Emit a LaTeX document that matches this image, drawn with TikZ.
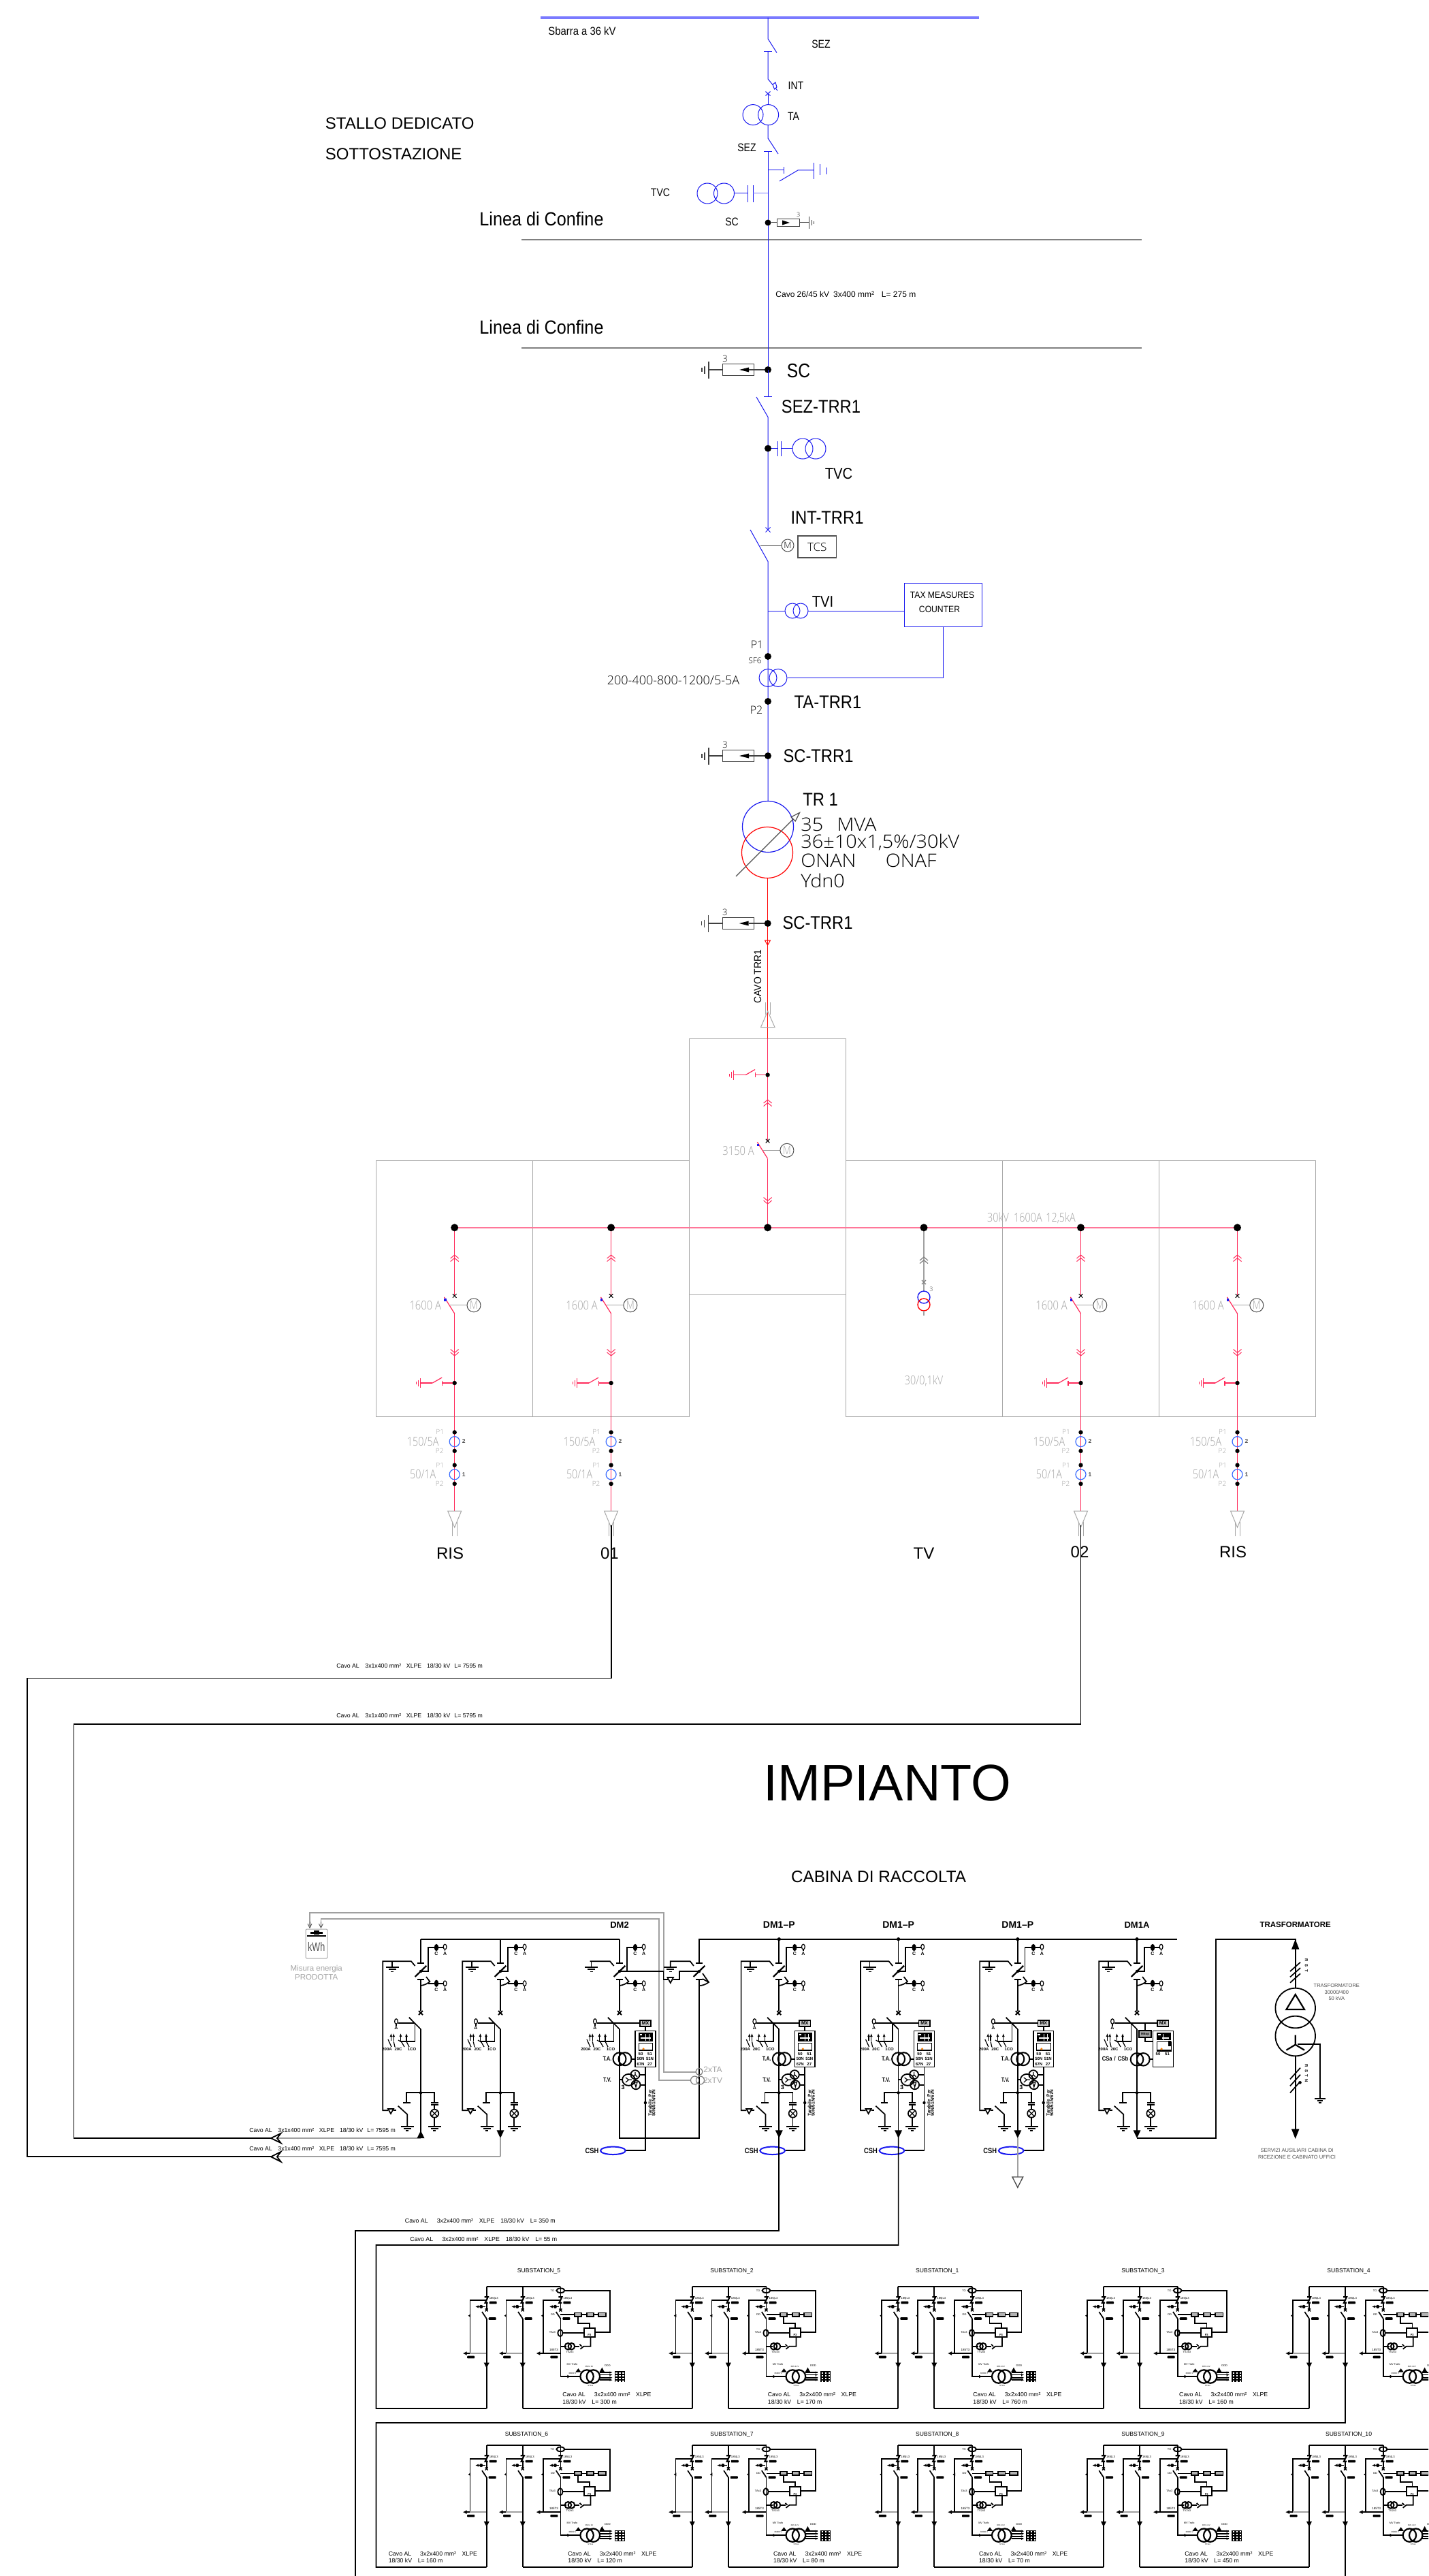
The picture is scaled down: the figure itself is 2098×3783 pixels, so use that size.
\documentclass[tikz,border=0pt]{standalone}
\usepackage{fontspec}
\setmainfont{Liberation Sans}
\newfontfamily\thinf{Open Sans Light}
\usepackage{graphicx}
\usetikzlibrary{arrows.meta}
\definecolor{blu}{HTML}{1A1AF0}
\definecolor{barblu}{HTML}{7A7AFF}
\definecolor{ctblu}{HTML}{3A6CFF}
\definecolor{crim}{HTML}{FF2A5A}
\definecolor{busp}{HTML}{FF7799}
\definecolor{gbox}{HTML}{A8A8A8}
\definecolor{gtxt}{HTML}{A4A4A4}
\definecolor{gcab}{HTML}{A0A0A0}
\definecolor{dgr}{HTML}{505050}
\newcounter{lb}
\newcommand\tx[6][1]{\stepcounter{lb}\node[inner sep=0pt,font=\fontsize{\fpeval{#4/2}}{\fpeval{#4*.6}}\selectfont,#5] (lbl\arabic{lb}) at (#2,#3) {\scalebox{#1}[1]{#6}};}
% ---------- upper symbols
\newcommand\sarr[2]{\begin{scope}[shift={(#1,#2)},line width=.6pt,draw=black!75]
 \draw (-66.5,-8.5) rectangle (-20.5,8.5);
 \fill[black] (-42,0)--(-28,-3.5)--(-28,3.5)--cycle;
 \draw (-28,0)--(0,0);
 \draw (-66.5,0)--(-87,0);
 \draw (-87,-12.5)--(-87,12.5);
 \draw (-93,-5.5)--(-93,5.5);
 \draw (-97,-3)--(-97,3);
 \tx{-63}{-16}{13}{}{\thinf 3}
\end{scope}}
\newcommand\chup[1]{\begin{scope}[shift={#1},crim,line width=.5pt]\draw (-6,5)--(0,0)--(6,5) (-6,9.5)--(0,4.5)--(6,9.5);\end{scope}}
\newcommand\chdn[1]{\begin{scope}[shift={#1},crim,line width=.5pt]\draw (-6,-5)--(0,0)--(6,-5) (-6,-9.5)--(0,-4.5)--(6,-9.5);\end{scope}}
\newcommand\xm[1]{\begin{scope}[shift={#1},line width=.5pt]\draw (-2.8,-2.8)--(2.8,2.8) (-2.8,2.8)--(2.8,-2.8);\end{scope}}
\newcommand\pes[1]{\begin{scope}[shift={#1},crim,line width=.6pt]
 \draw (-18.5,0)--(0,0); \draw (-18.5,-3.5)--(-18.5,3.5);
 \draw (-32.5,0)--(-18.5,-8);
 \draw (-50,0)--(-32.5,0);
 \draw (-50,-7)--(-50,7); \draw (-53,-4.5)--(-53,4.5); \draw (-56,-2)--(-56,2);
 \fill[black] (0,0) circle (3.2);
\end{scope}}
\newcommand\brk[2]{\begin{scope}[shift={#1}]
 \draw[crim,line width=.6pt] (-15.2,-12)--(0,12.2);
 \xm{(0,-13.8)}
 \fill[blu] (-15.8,-9.5) rectangle (-12.2,-6);
 \draw[gtxt,line width=.6pt] (-7,0)--(18.7,0);
 \draw[dgr,line width=.5pt] (28.3,0) circle (10);
 \tx[.8]{28.3}{0}{17}{text=gtxt}{\thinf M}
 \tx[.82]{-43}{0.5}{18}{text=gtxt}{\thinf #2}
\end{scope}}
\newcommand\term[1]{\begin{scope}[shift={#1},gbox,line width=.5pt]
 \draw (-10,0)--(10,0)--(0,24)--cycle;
 \draw (-3.5,16)--(-3.5,36.6) (3.5,16)--(3.5,36.6);
\end{scope}}
\newcommand\pct[3]{\begin{scope}[shift={#1}]
 \fill (0,0) circle (3.2); \fill (0,27.4) circle (3.2);
 \draw[ctblu,line width=.6pt] (0,13.7) circle (7.5);
 \tx{-21.5}{0}{10}{text=gtxt}{\thinf P1}
 \tx{-22}{27}{10}{text=gtxt}{\thinf P2}
 \tx{13.5}{13.5}{8.5}{text=dgr}{\bfseries #2}
 \tx[.8]{-46.5}{13.5}{18}{text=gtxt}{\thinf #3}
\end{scope}}
\newcommand\feed[1]{\begin{scope}[shift={(#1,0)}]
 \draw[crim,line width=.6pt] (0,1802.8)--(0,1903) (0,1929)--(0,2219);
 \chup{(0,1843)}
 \brk{(0,1916.8)}{1600 A}
 \chdn{(0,1991)}
 \pes{(0,2031)}
 \pct{(0,2103.4)}{2}{150/5A}
 \pct{(0,2151.6)}{1}{50/1A}
 \term{(0,2219)}
 \fill (0,1802.8) circle (5.5);
\end{scope}}
% ---------- black switchgear
\newcommand\ek[1]{\begin{scope}[shift={#1}]\draw (-9.5,0)--(9.5,0) (-5.5,3.3)--(5.5,3.3) (-2,6.6)--(2,6.6);\end{scope}}
\newcommand\capC[1]{\begin{scope}[shift={#1}]\fill (0,0) ellipse (3.2 and 5.2);
 \tx{0}{9.3}{7}{}{\bfseries C}\end{scope}}
\newcommand\keyA[1]{\begin{scope}[shift={#1}]\draw[line width=.6pt] (0,0) ellipse (2.4 and 3.8);\draw[line width=.6pt] (0,3.8)--(0,6);
 \tx{0}{9.8}{7}{}{\bfseries A}\end{scope}}
\newcommand\colTop[1]{\begin{scope}[shift={(#1,0)}]
 \draw (0,2847.7)--(0,2882.7) (-5,2882.7)--(5,2882.7);
 \draw[line width=1.1pt] (-8.4,2903)--(8.4,2886.7);
 \fill (0,2895) circle (2.2);
 \draw (-5,2906.7)--(5,2906.7) (0,2906.7)--(0,2953);
 \draw[line width=1pt] (-3,2953)--(3,2959) (-3,2959)--(3,2953);
 \draw (0,2895)--(10.7,2895)--(10.7,2860)--(20,2860);
 \draw (26,2860)--(33,2860);
 \capC{(23,2860)}\keyA{(35.6,2859)}
 \draw (0,2916) .. controls (6,2915) and (10,2913) .. (13.4,2910)--(8,2903);
 \draw (11,2912.7)--(20,2912.7) (26,2912.7)--(33,2912.7);
 \capC{(23,2912.7)}\keyA{(35.6,2912.7)}
\end{scope}}
\newcommand\colLeft[1]{\begin{scope}[shift={(#1,0)}]
 \draw (-8.4,2887)--(-14,2880.3)--(-55.7,2880.3)--(-55.7,3099.3)--(-48,3099.3);
 \draw (-40,3099.3)--(-36,3099.3);
 \draw[fill=white] (-48,3097)--(-40,3097)--(-44,3104)--cycle;
 \draw (-33.3,3092.7)--(-19.8,3105)--(-19.8,3122.7);
 \ek{(-19.8,3122.7)}
 \draw (-42,2880.3)--(-42,2889);
 \ek{(-42,2889)}
\end{scope}}
\newcommand\colBrk[1]{\begin{scope}[shift={(#1,0)}]
 \draw (-17.2,2962.7)--(0,2980);
 \keyA{(-36,2968.5)}
 \draw (-33.5,2970.7)--(-9,2970.7);
 \draw (-8.4,2970.7)--(-8.4,2998.3)--(-30,2998.3);
 \draw[line width=.6pt,-{Latex[length=2.5pt,width=2pt]}] (-43.6,2997)--(-43.6,2986);
 \draw[line width=.6pt,-{Latex[length=2.5pt,width=2pt]}] (-39.8,2997)--(-39.8,2986);
 \draw[line width=.6pt,-{Latex[length=2.5pt,width=2pt]}] (-29.5,2997)--(-29.5,2986);
 \draw[line width=.6pt,-{Latex[length=2.5pt,width=2pt]}] (-21,2997)--(-21,2986);
 \draw[line width=.6pt] (-48,2995)--(-43,3006) (-39.8,2998)--(-38,3006) (-33,2996)--(-28,2999)--(-24,3006) (-21,2998)--(-17,3006);
 \tx{-49.5}{3009.5}{6}{}{\bfseries 200A}
 \tx{-33}{3009.5}{6}{}{\bfseries 20C}
 \tx{-13}{3009.5}{6}{}{\bfseries 1CO}
\end{scope}}
\newcommand\mxbox[1]{\begin{scope}[shift={#1}]\draw[fill=black!20] (0,-4.5) rectangle (16.5,4.5);
 \tx{8.2}{0}{7}{}{\bfseries MX}\end{scope}}
\newcommand\relayBody[1]{\begin{scope}[shift={(#1,0)}]
 \draw[line width=.7pt] (23,2982.3) rectangle (52.8,3035.7);
 \fill (28,2985) rectangle (49,2998);
 \fill[white] (29.5,2987) rectangle (33,2989);\fill[white] (31,2992) rectangle (46,2994);\fill[white] (38,2986.5) rectangle (39,2997);\fill[white] (43,2986.5) rectangle (44,2997);
 \draw[line width=.5pt] (28,3000) rectangle (48.5,3011.7);
 \fill (28,3009.5) rectangle (48.5,3011.7);
 \fill[orange] (35,3009) circle (1.8);
\end{scope}}
\newcommand\relayFull[1]{\begin{scope}[shift={(#1,0)}]
 \mxbox{(29.8,2971.2)}
 \draw (-9,2970.7)--(29.8,2970.7) (37.9,2975.7)--(37.9,2982.3);
 \relayBody{0}
 \tx{31}{3016}{6}{}{\bfseries 50}\tx{44.5}{3016}{6}{}{\bfseries 51}
 \tx{31}{3023.7}{6}{}{\bfseries 50N}\tx{44.5}{3023.7}{6}{}{\bfseries 51N}
 \tx{31}{3031}{6}{}{\bfseries 67N}\tx{44.5}{3031}{6}{}{\bfseries 27}
 \draw[line width=1pt] (0,3023.7) circle (9.5) (8,3023.7) circle (9.5);
 \draw (17.5,3023.7)--(23,3023.7);
 \tx[.8]{-18}{3023.3}{9}{}{\bfseries T.A.}
 \tx[.8]{-18}{3054.3}{9}{}{\bfseries T.V.}
 \draw (0,3054.3)--(4,3054.3);
 \draw[line width=.9pt] (13.4,3054.3) ellipse (9.4 and 8.5) (23,3046.7) ellipse (6.5 and 6.5) (24,3061.7) ellipse (6.5 and 6.5);
 \draw[line width=.6pt] (13.4,3054.3)--(9,3051) (13.4,3054.3)--(9,3058) (13.4,3054.3)--(18,3054.3);
 \draw[line width=.6pt] (23,3046.7)--(23,3043) (23,3046.7)--(20,3050) (23,3046.7)--(26,3050);
 \draw[line width=.6pt] (22,3058)--(26,3058)--(24,3065)--cycle;
 \draw (29.5,3046.7)--(37.9,3046.7) (30.5,3061.7)--(37.9,3061.7);
 \tx{5}{3065}{9}{}{\bfseries 3}
 \draw (37.9,3035.7)--(37.9,3158.3)--(8.8,3158.3);
 \fill (37.9,3088) circle (2.2);
 \tx{44.8}{3088}{6.5}{rotate=90}{\bfseries Tarabile\ \ Per}
 \tx{50}{3088}{6.5}{rotate=90}{\bfseries 50N/51N/67N}
 \draw[blu,line width=1pt] (-9.6,3158.3) ellipse (18.4 and 5.7);
 \tx[.85]{-40.6}{3158.3}{11}{}{\bfseries CSH}
\end{scope}}
\newcommand\colBot[1]{\begin{scope}[shift={(#1,0)}]
 \fill (0,3073.3) circle (2.2);
 \draw (-20.7,3087.7)--(-20.7,3073.3)--(20.3,3073.3)--(20.3,3088.3);
 \draw (-26,3087.7)--(-15.5,3087.7);
 \draw (15,3088.3)--(25.5,3088.3) (15,3090.7)--(25.5,3090.7);
 \draw (20.3,3090.7)--(20.3,3097.7) (20.3,3109.7)--(20.3,3122.7);
 \draw (20.3,3103.7) circle (6);
 \draw[line width=.6pt] (16,3099.5)--(24.5,3108) (16,3108)--(24.5,3099.5);
 \ek{(20.3,3122.7)}
\end{scope}}
\newcommand\arrD[1]{\begin{scope}[shift={(#1,0)}]\fill (-5.5,3128.3)--(5.5,3128.3)--(0,3140)--cycle;\end{scope}}
\newcommand\arrU[1]{\begin{scope}[shift={(#1,0)}]\fill (-5.5,3140)--(5.5,3140)--(0,3129)--cycle;\end{scope}}
% ---------- substation module
\newcommand\blob[1]{\fill[rounded corners=.4pt] #1 rectangle +(11,3.6);}
\newcommand\subtop[1]{\begin{scope}[shift={(#1,0)}]
 \draw[line width=1.1pt] (-3,15.5)--(2,15.5)--(-2,24)--(2,24);
 \draw (0,0)--(0,15.5) (0,24)--(0,34);
 \tx{10.5}{18}{4.2}{}{185|L3}
 \blob{(4,22)}
 \draw[line width=.5pt,-{Latex[length=2.5pt,width=2.2pt]}] (-2,29.7)--(-16.5,29.7);
 \fill (-8,29.7) ellipse (2.6 and 2.6);
 \draw[line width=.7pt] (-2,32.7)--(2,36.7) (-2,36.7)--(2,32.7);
 \draw (-6.7,37.3)--(0,47.3);
 \blob{(3,45.5)}
\end{scope}}
\newcommand\subfeed[1]{\begin{scope}[shift={(#1,0)}]
 \subtop{0}
 \draw (-1,20)--(-24.3,20)--(-24.3,98.3);
 \fill (-27,43)--(-23.5,40.5)--(-23.5,45.5)--cycle;
 \draw[-{Latex[length=3pt,width=3pt]}] (-24.3,98.3)--(-35,98.3);
 \draw[gcab,line width=.7pt] (-24.3,98.3)--(1,98.3);
 \blob{(-28.5,102)}
 \draw (0,47.3)--(0,179.2);
 \fill (-4,112)--(4,112)--(0,120)--cycle;
\end{scope}}
\newcommand\sub[3]{\begin{scope}[shift={(#1,#2)},line width=.85pt]
 \draw (0,0)--(108.7,0);
 \subfeed{0}\subfeed{53}
 \coordinate (#3a) at (0,179.2);
 \coordinate (#3b) at (53,179.2);
 \begin{scope}[shift={(108.7,0)}]
  \subtop{0}
  \draw (-1,20)--(-25.7,20)--(-25.7,98.3);
  \fill (-28.5,43)--(-25,40.5)--(-25,45.5)--cycle;
  \draw[-{Latex[length=3pt,width=3pt]}] (-25.7,98.3)--(-36,98.3);
  \draw (-25.7,98.3)--(0,98.3);
  \tx{-10}{95.5}{4.5}{}{\underline{185T3}}
  \blob{(-15,102)}
  \draw (0,47.3)--(0,132.3)--(29,132.3);
  \fill (10,130)--(14,132.3)--(10,134.6)--cycle;
  \draw[line width=.95pt] (0,6) ellipse (6 and 3.3);
  \tx{-12}{6}{4}{}{TO}
  \draw (6,6)--(72.5,6)--(72.5,67.4)--(50.5,67.4);
  \tx{-11.5}{41.5}{4}{}{DD}
  \tx{-12}{67.5}{4}{}{TAx3}
  \draw (0,41.6)--(20.3,41.6) (30.6,41.6)--(38.3,41.6) (48.6,41.6)--(55.3,41.6);
  \draw[fill=black!30] (20.3,38.7) rectangle (30.6,44.5);
  \draw[fill=black!30] (38.3,38.7) rectangle (48.6,44.5);
  \draw[fill=black!30] (55.3,38.7) rectangle (66.9,44.5);
  \draw (25.6,44.5)--(25.6,54)--(42.8,54)--(42.8,61);
  \draw[line width=1pt] (34.3,61) rectangle (50.5,74);
  \tx{42.5}{71.8}{4}{}{\bfseries P3}
  \draw[line width=.9pt] (-.5,68.4) ellipse (3.6 and 5);
  \draw (3,68.4)--(34.3,68.4);
  \draw (0,88)--(9,88);
  \draw[line width=1pt] (11,88) circle (4.8) (16,88) circle (4.8);
  \draw (21,88)--(28,88);
  \draw (28,85)--(31,88)  (29,92)--(34,88)--(44,88)--(44,74);
  \tx{13.5}{96.6}{4}{}{TV2x3}
  \tx{17}{114}{3.8}{}{MV Trafo}
  \tx{17.5}{128}{3}{}{36000 V}
  \tx{42}{117.5}{2.8}{}{36/0.4 kV}
  \tx{44}{145.5}{2.8}{}{ST1xx}
  \tx{69}{116}{4}{}{DDD}
  \fill (26,120.5)--(30.2,126)--(21.8,126)--cycle;
  \fill (61,119)--(63,123)--(65,126)--(61,125)--(57,126)--cycle;
  \draw[line width=1.1pt] (38.7,132.3) circle (9.7) (48,132.3) circle (9.7);
  \foreach \yy in {126.3,129.8,134,137.5}{\draw[line width=.9pt] (57.5,\yy)--(75,\yy);\fill (72,\yy-1.5)--(76,\yy)--(72,\yy+1.5)--cycle;}
  \fill (79.3,124.7) rectangle (94.3,140.7);
  \foreach \cx in {81,86,91}{\foreach \cy in {126.5,130.5,134.5,138.5}{\fill[white] (\cx,\cy) rectangle +(2.4,1.5);}}
 \end{scope}
\end{scope}}
\newcommand\cav[3]{\tx{#1}{#2}{8.7}{anchor=west}{Cavo AL\hspace{1.5em}3x2x400 mm²\hspace{1em}XLPE}
 \tx{#1}{#2+10.2}{8.7}{anchor=west}{18/30 kV\hspace{1em}L= #3 m}}
\begin{document}
\begin{tikzpicture}[x=.5pt,y=-.5pt]
\useasboundingbox (0,0) rectangle (2098,3783);
\fill[white] (0,0) rectangle (2098,3783);
\clip (0,0) rectangle (2098,3783);
% ==================== titles
\tx{477.5}{181}{24}{anchor=west}{STALLO DEDICATO}
\tx{477.5}{226.6}{24}{anchor=west}{SOTTOSTAZIONE}
\tx[.9]{795.5}{321}{28}{}{Linea di Confine}
\tx[.9]{795.5}{480}{28}{}{Linea di Confine}
\draw[gcab!80!black,line width=1pt] (766,352)--(1677,352);
\draw[gcab!80!black,line width=1pt] (766,511)--(1677,511);
% ==================== top substation
\coordinate (bar) at (1128,26);
\draw[barblu,line width=1.6pt] (794,26)--(1438,26);
\tx[.9]{855}{46}{16.5}{}{Sbarra a 36 kV}
\begin{scope}[blu,line width=.5pt]
 \draw (bar)--(1128,57)--(1141,77.5);
 \draw (1122,76)--(1134,76);
 \draw (1128,76)--(1128,116)--(1142,133);
 \draw[fill=white] (1135,124)--(1139,121)--(1141,128)--(1137.5,131)--cycle;
 \draw (1124.5,134.5)--(1131.5,140.5) (1124.5,140.5)--(1131.5,134.5);
 \draw (1128,137.5)--(1128,153.5);
 \draw (1106,168.6) circle (15) (1128.6,168.6) circle (15);
 \draw (1128,183.6)--(1128,203)--(1143,226);
 \draw (1122,223)--(1134,223);
 \draw (1128,223)--(1128,543);
 \draw (1128,250)--(1151,250) (1151,245)--(1151,255);
 \draw (1145,266)--(1172,250)--(1195,250);
 \draw (1195,239)--(1195,263) (1204,241)--(1204,257) (1214,246)--(1214,256);
 \draw (1039,284) circle (15) (1063.5,284) circle (15);
 \draw (1078.5,284)--(1098.6,284) (1098.6,272.5)--(1098.6,297) (1106,272.5)--(1106,297);
 \draw[barblu] (1106,284)--(1128,284);
\end{scope}
\tx[.85]{1206}{65}{16.5}{}{SEZ}
\tx[.85]{1169}{126}{16.5}{}{INT}
\tx[.85]{1165.5}{171}{16.5}{}{TA}
\tx[.85]{1097}{217}{16.5}{}{SEZ}
\tx[.85]{970}{283}{16.5}{}{TVC}
\tx[.85]{1075}{326}{16.5}{}{SC}
\tx{1139}{432}{12}{anchor=west}{Cavo 26/45 kV\hspace{.5em}3x400 mm²\hspace{.9em}L= 275 m}
\node[circle,fill=black,inner sep=0pt,minimum size=4.5pt] (scA) at (1128,327) {};
\begin{scope}[line width=.5pt,draw=black!75]
 \draw (scA)--(1141,327);
 \draw (1141,321.4) rectangle (1174.5,333);
 \fill[black] (1160,327)--(1149,323.5)--(1149,330.5)--cycle;
 \draw (1174.5,327)--(1188.5,327) (1188.5,318)--(1188.5,336) (1192,323)--(1192,331) (1195.5,325)--(1195.5,329);
\end{scope}
\tx{1172.6}{315}{9}{}{\thinf 3}
% second block
\coordinate (sc2) at (1128,543);
\sarr{1128}{543}
\fill (sc2) circle (5);
\tx[.85]{1173}{545}{29}{}{SC}
\coordinate (sezt) at (1128,612.5);
\begin{scope}[blu,line width=.5pt]
 \draw (sc2)--(1128,582.6) (1122,582.6)--(1134,582.6);
 \draw (1111,583)--(sezt)--(1128,778);
 \draw (1124.5,774.5)--(1131.5,781.5) (1124.5,781.5)--(1131.5,774.5);
 \draw (1128,658.5)--(1142,658.5) (1142,648)--(1142,669.6) (1147.8,648)--(1147.8,669.6) (1147.8,658.5)--(1164,658.5);
 \draw (1179,659) circle (15) (1198,659) circle (15);
 \draw (1102,778)--(1128,824.5)--(1128,1177);
 \draw (1128,897)--(1153,897);
 \draw (1164,897) circle (11) (1176,897) circle (11);
 \draw (1187,897)--(1328.6,897);
 \draw (1385,920.5)--(1385,995.5)--(1157,995.5);
 \draw (1128,995.5) circle (13) (1143,995.5) circle (13);
\end{scope}
\fill (1128,658.5) circle (5);
\tx[.88]{1206}{597}{27}{}{SEZ-TRR1}
\tx[.88]{1232}{695.5}{23}{}{TVC}
\tx[.88]{1215}{760}{27}{}{INT-TRR1}
\draw[dgr,line width=.5pt] (1116.5,801)--(1148,801);
\node[circle,draw=dgr,line width=.5pt,inner sep=0pt,minimum size=9pt,font=\fontsize{6.5}{7}\thinf] (motT) at (1157,801) {M};
\node[draw=dgr,line width=.6pt,inner sep=0pt,minimum width=28.3pt,minimum height=16pt,font=\fontsize{8.5}{10}\thinf] (tcs) at (1200.3,803) {TCS};
\node[draw=blu,line width=.5pt,inner sep=0pt,minimum width=56.7pt,minimum height=32.2pt] (tax) at (1385.3,888.2) {};
\tx[.9]{1384}{873.7}{13.5}{}{TAX MEASURES}
\tx[.9]{1380}{894.6}{13.5}{}{COUNTER}
\tx[.88]{1208.5}{884}{23}{}{TVI}
\tx{1112}{947}{16}{}{\thinf P1}
\tx{1109}{970.5}{12}{}{\thinf SF6}
\tx{1111}{1043}{16}{}{\thinf P2}
\tx{989}{999}{18}{}{\thinf 200-400-800-1200/5-5A}
\fill (1128,964) circle (5);
\fill (1128,1030) circle (5);
\tx[.88]{1216}{1031}{27}{}{TA-TRR1}
\sarr{1128}{1110}
\fill (1128,1110) circle (5);
\tx[.88]{1202}{1110}{27}{}{SC-TRR1}
\tx[.88]{1205}{1174}{27}{}{TR 1}
% transformer
\draw[blu,line width=.6pt] (1128,1214) circle (37.5);
\draw[red,line width=.6pt] (1127,1252) circle (37.5);
\draw[line width=.6pt,dgr,-{Triangle[open,length=8pt,width=5pt]}] (1081,1287)--(1176,1192);
\tx[1.07]{1176}{1211}{27}{anchor=west}{\thinf 35\hspace{.7em}MVA}
\tx[1.07]{1176}{1237}{27}{anchor=west}{\thinf 36±10x1,5\%/30kV}
\tx[1.07]{1176}{1264}{27}{anchor=west}{\thinf ONAN\hspace{1.5em}ONAF}
\tx[1.07]{1176}{1293}{27}{anchor=west}{\thinf Ydn0}
\draw[red,line width=.7pt] (1127.5,1290)--(1127.5,1525);
\sarr{1127.7}{1356}
\fill (1127.7,1356) circle (5);
\tx[.88]{1201}{1355}{27}{}{SC-TRR1}
\draw[red,line width=.5pt] (1123.5,1381)--(1131.5,1381)--(1127.5,1388)--cycle;
\tx[.93]{1113}{1434}{15}{rotate=90}{CAVO TRR1}
\begin{scope}[gbox,line width=.5pt]
 \draw (1117.5,1508.5)--(1138,1508.5)--(1127.7,1485)--cycle;
 \draw (1124.5,1472)--(1124.5,1490) (1131,1472)--(1131,1490);
\end{scope}
% panels
\begin{scope}[gbox,line width=.5pt]
 \draw (552.5,1704.5) rectangle (782.4,2080.6);
 \draw (782.4,1704.5)--(1012.6,1704.5)--(1012.6,2080.6)--(782.4,2080.6);
 \draw (1012.6,1525) rectangle (1242.4,1901);
 \draw (1242.4,1704.5)--(1932.7,1704.5)--(1932.7,2080.6)--(1242.4,2080.6)--cycle;
 \draw (1472.3,1704.5)--(1472.3,2080.6) (1702.3,1704.5)--(1702.3,2080.6);
\end{scope}
% bus
\draw[busp,line width=1.3pt] (667.7,1802.8)--(1817.5,1802.8);
\foreach \fx in {667.7,897.6,1587.5,1817.5}{\feed{\fx}}
\draw[crim,line width=.7pt] (1127.6,1525)--(1127.6,1676) (1127.6,1702)--(1127.6,1802.8);
\pes{(1127.6,1578.6)}
\chup{(1127.6,1615)}
\brk{(1127.6,1689.3)}{3150 A}
\chdn{(1127.6,1768)}
\fill (1127.6,1802.8) circle (5.5);
% TV feeder
\begin{scope}[shift={(1357,0)}]
 \draw[gcab,line width=.9pt] (0,1802.8)--(0,1896);
 \begin{scope}[gray]
  \draw[line width=.6pt] (-6,1851)--(0,1846)--(6,1851) (-6,1855.5)--(0,1850.5)--(6,1855.5);
  \draw[line width=.6pt] (-3,1880)--(3,1886) (-3,1886)--(3,1880);
 \end{scope}
 \draw[blu,line width=.7pt] (0,1905) circle (9);
 \draw[red,line width=.7pt] (0,1916) circle (9);
 \draw[gcab,line width=.6pt] (0,1925)--(0,1932);
 \tx{11}{1893}{9}{text=dgr}{\thinf 3}
 \fill (0,1802.8) circle (5.5);
 \tx[.8]{0}{2028}{18}{text=gtxt}{\thinf 30/0,1kV}
\end{scope}
\tx[.8]{1515}{1789}{18}{text=gtxt}{\thinf 30kV\hspace{.5em}1600A\hspace{.4em}12,5kA}
\tx{661}{2281}{24}{}{RIS}
\tx{895.4}{2281}{24}{}{01}
\tx{1357}{2281}{24}{}{TV}
\tx{1586}{2279}{24}{}{02}
\tx{1811}{2279}{24}{}{RIS}
% ==================== long cables
\begin{scope}[line width=.9pt]
 \coordinate (c1) at (897.6,2240);
 \coordinate (c2) at (1587.5,2240);
 \coordinate (ta1) at (412,3167.3);
 \coordinate (ta2) at (412,3140);
 \draw (c1)--(897.6,2464.4)--(40,2464.4)--(40,3167.3)--(ta1);
 \draw (c2)--(1587.5,2532)--(108.4,2532)--(108.4,3140)--(ta2);
 \draw[fill=white] (398,3167.3)--(412.5,3160)--(407,3167.3)--(412.5,3174.5)--cycle;
 \draw[fill=white] (398,3140)--(412.5,3133)--(407,3140)--(412.5,3147)--cycle;
 \draw[gcab,line width=1pt] (409,3140)--(618,3140) (409,3167.3)--(735,3167.3);
\end{scope}
\tx{494}{2446}{8.7}{anchor=west}{Cavo AL\hspace{1em}3x1x400 mm²\hspace{.9em}XLPE\hspace{.9em}18/30 kV\hspace{.7em}L= 7595 m}
\tx{494}{2519}{8.7}{anchor=west}{Cavo AL\hspace{1em}3x1x400 mm²\hspace{.9em}XLPE\hspace{.9em}18/30 kV\hspace{.7em}L= 5795 m}
\tx{366}{3128}{8.7}{anchor=west}{Cavo AL\hspace{1em}3x1x400 mm²\hspace{.9em}XLPE\hspace{.9em}18/30 kV\hspace{.7em}L= 7595 m}
\tx{366}{3155}{8.7}{anchor=west}{Cavo AL\hspace{1em}3x1x400 mm²\hspace{.9em}XLPE\hspace{.9em}18/30 kV\hspace{.7em}L= 7595 m}
\tx{1303.5}{2618}{75.5}{}{IMPIANTO}
\tx{1290.5}{2756}{24.3}{}{CABINA DI RACCOLTA}
% ==================== kWh meter and grey wires
\begin{scope}[gcab,line width=.8pt]
 \draw (455,2828)--(455,2809)--(975,2809)--(975,3042.7)--(1022,3042.7);
 \draw (471.4,2828)--(471.4,2818)--(968,2818)--(968,3055)--(1014.5,3055);
\end{scope}
\draw[black!70,line width=.4pt,-{Straight Barb[length=3pt,width=3pt]}] (455,2822)--(455,2832);
\draw[black!70,line width=.4pt,-{Straight Barb[length=3pt,width=3pt]}] (471.4,2822)--(471.4,2832);
\node[draw=gbox,line width=.5pt,rounded corners=1pt,inner sep=0pt,minimum width=16pt,minimum height=21.5pt] (kwh) at (465,2854.5) {};
\fill (451,2841.5) rectangle (479,2843.5);
\fill (456,2837) rectangle (474,2839.5);
\fill (461,2835) rectangle (469,2841);
\tx[.7]{464.7}{2859}{18}{text=dgr}{kWh}
\tx{464.7}{2891}{11.5}{text=gtxt}{Misura energia}
\tx{464.7}{2904}{11.5}{text=gtxt}{PRODOTTA}
% ==================== switchgear
\begin{scope}[line width=.85pt]
 \draw (618,2847.7)--(910,2847.7);
 \draw (1027,2882.7)--(1027,2847.7)--(1729,2847.7);
 \foreach \cx in {618,735,910,1144.3,1319.6,1494.8,1670}{\colTop{\cx}}
 \foreach \cx in {618,735,1144.3,1319.6,1494.8,1670}{\colLeft{\cx}\colBot{\cx}}
 \foreach \cx in {618,735,910,1144.3,1319.6,1494.8,1670}{\colBrk{\cx}}
 \foreach \cx in {1144.3,1319.6,1494.8,1670}{\fill (\cx,2847.7) circle (2.6);}
 \foreach \cx in {910,1144.3,1319.6,1494.8}{\relayFull{\cx}}
 % vertical mains
 \foreach \cx in {618,735,910,1144.3,1319.6,1494.8,1670}{\draw (\cx,2980)--(\cx,3135);}
 \arrU{618}
 \arrD{735}\arrD{1144.3}\arrD{1319.6}\arrD{1494.8}\arrD{1670}
 \draw[gcab,line width=1pt] (735,3140)--(735,3167.3);
 % DM2 : short earth
 \draw (901.6,2887)--(896,2880.3)--(866.5,2880.3);
 \draw (868.5,2880.3)--(868.5,2889); \ek{(868.5,2889)}
 \draw (910,3135)--(910,3140)--(1027,3140)--(1027,2906.7);
 % tie
 \draw (1022,2882.7)--(1032,2882.7);
 \draw[line width=1.1pt] (1018.6,2903)--(1035.4,2886.7);
 \fill (1027,2895) circle (2.2);
 \draw (1022,2906.7)--(1032,2906.7);
 \draw (1032,2906)--(1041,2911)  .. controls (1037,2914) and (1032,2916) .. (1027,2916);
 \draw (1032,2898)--(1041,2911);
 \draw (920.7,2895)--(974.5,2895)--(974.5,2906.7)--(981,2906.7);
 \draw (988.5,2906.7)--(998.2,2906.7)--(998.2,2895)--(1027,2895);
 \draw[fill=white] (980.5,2904)--(989,2904)--(984.8,2912)--cycle;
 \draw (984.8,2889)--(984.8,2880.3)--(1013.8,2880.3)--(1019,2887);
 \ek{(984.8,2889)}
 % DM1A
 \begin{scope}[shift={(1670,0)}]
  \mxbox{(30,2971.2)}
  \draw (-9,2970.7)--(30,2970.7);
  \draw (11.7,2970.7)--(11.7,2982);
  \draw[fill=black!35] (3.3,2982) rectangle (20.7,2991.7);
  \tx{12}{2987}{4.5}{}{\bfseries Mitop}
  \draw (11.7,2991.7)--(11.7,2998.3)--(23.3,2998.3);
  \draw[line width=.7pt] (23.3,2982.3) rectangle (53.3,3035.7);
  \fill (29,2985) rectangle (50,2996);
  \fill[white] (31,2987) rectangle (35,2989);\fill[white] (37,2992) rectangle (47,2994);\fill[white] (38,2986.5) rectangle (39,2996);
  \draw[line width=.5pt] (29,2998) rectangle (50,3012);
  \fill (29,3009.5) rectangle (50,3012);
  \fill[orange] (36,3009) circle (1.8);
  \fill (46,2997) rectangle (50,3005);
  \tx{31}{3016}{6}{}{\bfseries 50}\tx{44.5}{3016}{6}{}{\bfseries 51}
  \draw[line width=1pt] (0,3024.3) circle (9.3) (9.3,3024.3) circle (9.3);
  \draw (18.6,3024.3)--(23.3,3024.3);
  \tx[.85]{-32}{3023.5}{9}{}{\bfseries CSa\hspace{.4em}/\hspace{.4em}CSb}
 \end{scope}
 \draw (1144.3,3135)--(1144.3,3275.9)--(521.8,3275.9)--(521.8,3783);
 \draw[gcab,line width=.7pt] (1494.8,3140)--(1494.8,3197);
 \draw[dgr,line width=.7pt] (1487,3197)--(1502.6,3197)--(1494.8,3212.3)--cycle;
 \tx{910}{2826.7}{13}{}{\bfseries DM2}
 \tx{1144.3}{2826.7}{14}{}{\bfseries DM1–P}
 \tx{1319.6}{2826.7}{14}{}{\bfseries DM1–P}
 \tx{1494.8}{2826.7}{14}{}{\bfseries DM1–P}
 \tx{1670}{2826.7}{13}{}{\bfseries DM1A}
 % TA/TV on tie
 \begin{scope}[gray,line width=.6pt]
  \draw (1027,3042.3) circle (5);
  \draw (1020.5,3055) circle (6) (1028.5,3055) circle (6);
 \end{scope}
 \tx{1047}{3039}{12}{text=gtxt}{2xTA}
 \tx{1047}{3055}{12}{text=gtxt}{2xTV}
 % auxiliary transformer
 \draw (1670,3140)--(1785.7,3140)--(1785.7,2848.3)--(1902.7,2848.3)--(1902.7,2919.3);
 \fill (1897,2862.7)--(1908.4,2862.7)--(1902.7,2848)--cycle;
 \draw (1895,2895)--(1910,2881.7) (1895,2903.3)--(1910,2890) (1895,2911.7)--(1910,2898.3);
 \tx{1919}{2879}{6}{rotate=-90}{\bfseries R}
 \tx{1919}{2886.7}{6}{rotate=-90}{\bfseries S}
 \tx{1919}{2894}{6}{rotate=-90}{\bfseries T}
 \draw[line width=.9pt] (1902.7,2949) circle (29.3) (1902.7,2990) circle (29.3);
 \draw[line width=1.1pt] (1902.7,2929)--(1916,2951)--(1889.4,2951)--cycle;
 \draw[line width=1.1pt] (1902.7,2988.5)--(1902.7,3002.7)--(1889.4,3010.7) (1902.7,3002.7)--(1916,3010.7);
 \draw (1906,3002.3)--(1939,3002.3)--(1939,3081.7);
 \draw (1931.4,3081.7)--(1946.6,3081.7) (1934.6,3085)--(1943.4,3085) (1936.7,3088.3)--(1941,3088.3);
 \draw (1902.7,3019.3)--(1902.7,3130);
 \fill (1897,3126.7)--(1908.4,3126.7)--(1902.7,3141)--cycle;
 \draw (1895,3053.3)--(1910,3036.7) (1895,3063.3)--(1910,3046.7) (1895,3073.3)--(1910,3056.7);
 \fill (1909.5,3058.3) circle (2.3);
 \tx{1919}{3034}{6}{rotate=-90}{\bfseries R}
 \tx{1919}{3041}{6}{rotate=-90}{\bfseries S}
 \tx{1919}{3048.3}{6}{rotate=-90}{\bfseries T}
 \tx{1919}{3055.7}{6}{rotate=-90}{\bfseries N}
 \tx{1902.7}{2826.7}{11.5}{}{\bfseries TRASFORMATORE}
 \tx{1963.3}{2916}{7.5}{text=dgr}{TRASFORMATORE}
 \tx{1963.3}{2925.5}{7.5}{text=dgr}{30000/400}
 \tx{1963.3}{2935}{7.5}{text=dgr}{50 kVA}
 \tx{1905}{3158}{7.5}{text=dgr}{SERVIZI AUSILIARI CABINA DI}
 \tx{1905}{3168}{7.5}{text=dgr}{RICEZIONE E CABINATO UFFICI}
\end{scope}
\tx{594.5}{3261.7}{8.8}{anchor=west}{Cavo AL\hspace{1.5em}3x2x400 mm²\hspace{1em}XLPE\hspace{1em}18/30 kV\hspace{1em}L= 350 m}
\tx{602}{3288}{8.8}{anchor=west}{Cavo AL\hspace{1.5em}3x2x400 mm²\hspace{1em}XLPE\hspace{1em}18/30 kV\hspace{1em}L= 55 m}
% ==================== substations
\sub{714.7}{3357.7}{sa}
\sub{1016.8}{3357.7}{sb}
\sub{1319.3}{3357.7}{sc}
\sub{1621}{3357.7}{sd}
\sub{1923}{3357.7}{se}
\sub{714.7}{3590.8}{sf}
\sub{1016.8}{3590.8}{sg}
\sub{1319.3}{3590.8}{sh}
\sub{1621}{3590.8}{si}
\sub{1923}{3590.8}{sj}
\begin{scope}[line width=.85pt]
 \draw (1319.6,3135)--(1319.6,3297)--(552.4,3297)--(552.4,3536.9)--(saa);
 \draw (sab)--(sba) (sbb)--(sca) (scb)--(sda) (sdb)--(sea);
 \draw (seb)--(1976,3558)--(552.4,3558)--(552.4,3770)--(sfa);
 \draw (sfb)--(sga) (sgb)--(sha) (shb)--(sia) (sib)--(sja);
 \draw (sjb)--(1976,3783);
\end{scope}
\tx{791.6}{3335.8}{8.6}{}{SUBSTATION\_5}
\tx{1075}{3335.8}{8.6}{}{SUBSTATION\_2}
\tx{1376.8}{3335.8}{8.6}{}{SUBSTATION\_1}
\tx{1679}{3335.8}{8.6}{}{SUBSTATION\_3}
\tx{1981}{3335.8}{8.6}{}{SUBSTATION\_4}
\tx{773.4}{3575}{8.6}{}{SUBSTATION\_6}
\tx{1075}{3575}{8.6}{}{SUBSTATION\_7}
\tx{1376.8}{3575}{8.6}{}{SUBSTATION\_8}
\tx{1679}{3575}{8.6}{}{SUBSTATION\_9}
\tx{1981}{3575}{8.6}{}{SUBSTATION\_10}
\cav{826}{3516.8}{300}
\cav{1127.5}{3516.8}{170}
\cav{1429}{3516.8}{760}
\cav{1731.8}{3516.8}{160}
\cav{570.4}{3750}{160}
\cav{834}{3750}{120}
\cav{1135.8}{3750}{80}
\cav{1437.7}{3750}{70}
\cav{1740}{3750}{450}
\end{tikzpicture}
\end{document}
